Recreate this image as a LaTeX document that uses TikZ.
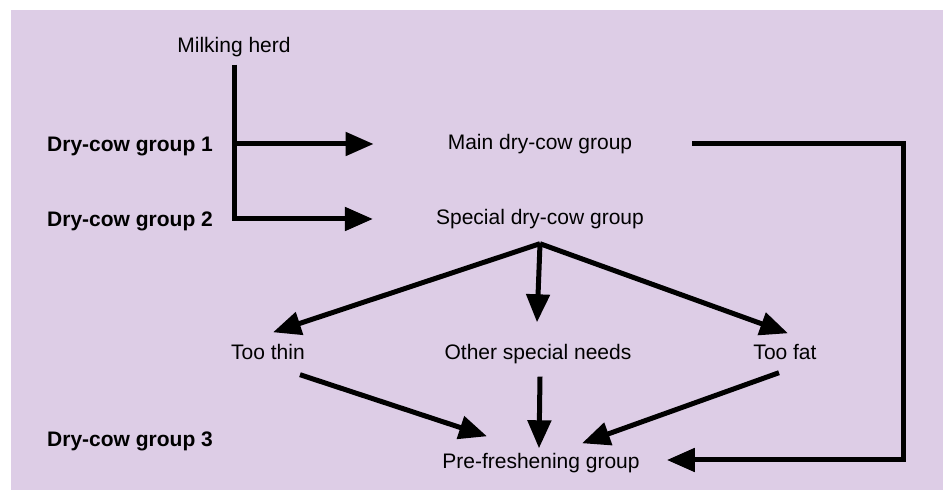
\documentclass[tikz,border=0pt]{standalone}
\usepackage{fontspec}
\setmainfont{Liberation Sans}
\usetikzlibrary{arrows.meta}
\definecolor{L}{RGB}{221, 205, 230}

\tikzset{
  grupo/.style={inner sep=0pt, text height=15pt, text depth=4pt,
    font=\fontsize{21}{25}\selectfont},
  seco/.style={grupo, anchor=west, font=\fontsize{21}{25}\selectfont\bfseries},
  flujo/.style={line width=5pt},
  flecha/.style={flujo, -{Triangle[length=28pt,width=23pt]}}
}

\begin{document}
\begin{tikzpicture}[x=1pt, y=1pt]
	\useasboundingbox (0,0) rectangle (943,490);
	%Fondo lila
	\fill[color=L] (11,0) rectangle (943,480);

	%Grupos
	\node[grupo] (milk) at (234,443) {Milking herd};
	\node[grupo] (main) at (540,346) {Main dry-cow group};
	\node[grupo] (special) at (540,271) {Special dry-cow group};
	\node[grupo] (thin) at (268,136) {Too thin};
	\node[grupo] (other) at (538,136) {Other special needs};
	\node[grupo] (fat) at (785,136) {Too fat};
	\node[grupo] (prefresh) at (541,27) {Pre-freshening group};

	%Etiquetas a la izquierda
	\node[seco] (dry1) at (47,344) {Dry-cow group 1};
	\node[seco] (dry2) at (47,269) {Dry-cow group 2};
	\node[seco] (dry3) at (47,49) {Dry-cow group 3};

	%Tronco desde el hato
	\draw[flecha, shorten >=63pt] ([yshift=-8pt]milk.south) |- (special.west);
	\draw[flecha, shorten >=74pt] (milk.south |- main.west) -- (main.west);

	%Retorno al grupo de preparto
	\draw[flecha] ([xshift=60pt]main.east) -| ([xshift=264pt,yshift=3pt]prefresh.east)
		-- ([xshift=27pt,yshift=3pt]prefresh.east);

	%Abanico del grupo especial
	\draw[flecha] ([yshift=-15pt]special.south) -- ([xshift=5pt,yshift=12pt]thin.north);
	\draw[flecha] ([yshift=-15pt]special.south) -- ([xshift=-1pt,yshift=22pt]other.north);
	\draw[flecha] ([yshift=-15pt]special.south) -- ([xshift=3pt,yshift=11pt]fat.north);

	%Hacia el preparto
	\draw[flecha] ([xshift=32pt,yshift=-11pt]thin.south) -- ([xshift=-54pt,yshift=17pt]prefresh.north);
	\draw[flecha] ([xshift=2pt,yshift=-13pt]other.south) -- ([xshift=-2pt,yshift=5pt]prefresh.north);
	\draw[flecha] ([xshift=-6pt,yshift=-9pt]fat.south) -- ([xshift=41pt,yshift=10pt]prefresh.north);
\end{tikzpicture}
\end{document}
